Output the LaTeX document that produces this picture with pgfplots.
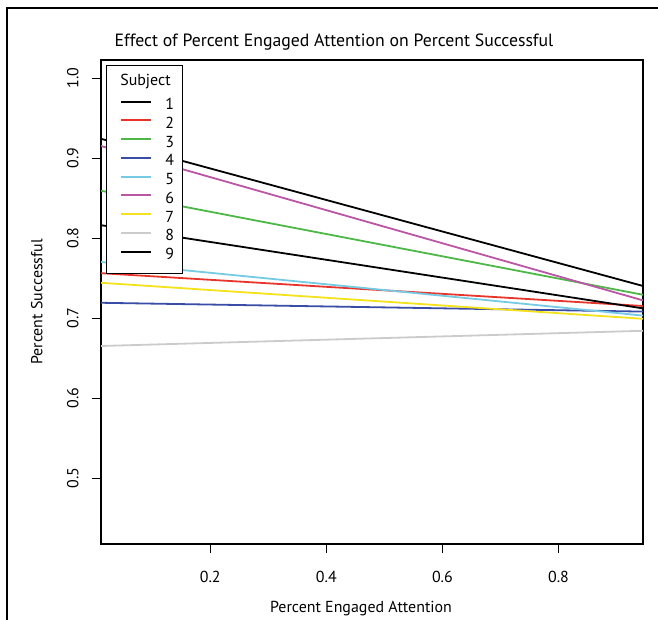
\documentclass[border=0pt]{standalone}
\usepackage{pgfplots}
\pgfplotsset{compat=1.18}
\usepackage{fontspec}
\setmainfont{PT Sans}

\definecolor{subjred}{HTML}{E8352B}
\definecolor{subjgreen}{HTML}{4DB848}
\definecolor{subjblue}{HTML}{3A4DA6}
\definecolor{subjcyan}{HTML}{74CBE3}
\definecolor{subjmagenta}{HTML}{BB55A6}
\definecolor{subjyellow}{HTML}{F4E21C}
\definecolor{subjgray}{HTML}{CBCBCB}

% struts that fix the legend row heights
\newcommand{\rowstrut}{\rule[-6.25bp]{0pt}{18.75bp}}
\newcommand{\titlestrut}{\rule[-11.5bp]{0pt}{24.3bp}}

\begin{document}
\begin{tikzpicture}[x=1bp,y=1bp]
\useasboundingbox (0,0) rectangle (658,620);
% figure frame (left and top edges)
\draw[line width=1.3bp] (7,0) -- (7,612) -- (658,612);
% title
\node[anchor=base,font=\fontsize{17.8}{20}\selectfont] at (334,573)
  {Effect of Percent Engaged Attention on Percent Successful};
\begin{axis}[
  at={(101bp,76bp)}, anchor=south west,
  width=542bp, height=484bp, scale only axis,
  xmin=0.0117, xmax=0.9457,
  ymin=0.4175, ymax=1.0225,
  xtick={0.2,0.4,0.6,0.8},
  ytick={0.5,0.6,0.7,0.8,0.9,1.0},
  xtick pos=bottom, ytick pos=left,
  tick align=outside,
  major tick length=9bp,
  tick style={line width=0.8bp, black},
  axis line style={line width=1.1bp},
  /pgf/number format/assume math mode=true,
  /pgf/number format/fixed,
  /pgf/number format/fixed zerofill,
  /pgf/number format/precision=1,
  ticklabel style={font=\fontsize{16}{18}\selectfont},
  xticklabel style={yshift=-15bp},
  yticklabel style={rotate=90, anchor=south, yshift=10bp},
  xlabel={Percent Engaged Attention},
  ylabel={Percent Successful},
  every axis y label/.style={at={(rel axis cs:0,0.5)}, rotate=90, anchor=south,
    yshift=55bp, font=\fontsize{16}{18}\selectfont},
  every axis x label/.style={at={(rel axis cs:0.5,0)}, anchor=north,
    yshift=-54bp, xshift=-11bp, font=\fontsize{16}{18}\selectfont},
  legend style={
    at={(rel axis cs:0.0092,0.9897)}, anchor=north west,
    draw=black, line width=0.8bp,
    font=\fontsize{16}{18}\selectfont,
    inner xsep=8bp, inner ysep=7.5bp,
    nodes={inner sep=0bp, text height=, text depth=},
    row sep=0bp,
    cells={anchor=west},
  },
  legend image code/.code={\path (-6bp,0bp);
    \draw[#1, line width=2bp] (0bp,5bp) -- (30bp,5bp);},
  every axis plot/.append style={line width=1.8bp},
]
\addlegendimage{empty legend}
\addlegendentry{\hspace{-32bp}Subject\titlestrut}
\addplot[black] table {
x y
0.0117 0.924
0.9457 0.740
};
\addlegendentry{\hspace{13bp}1\rowstrut}
\addplot[subjred] table {
x y
0.0117 0.756
0.9457 0.715
};
\addlegendentry{\hspace{13bp}2\rowstrut}
\addplot[subjgreen] table {
x y
0.0117 0.859
0.9457 0.729
};
\addlegendentry{\hspace{13bp}3\rowstrut}
\addplot[subjblue] table {
x y
0.0117 0.719
0.9457 0.708
};
\addlegendentry{\hspace{13bp}4\rowstrut}
\addplot[subjcyan] table {
x y
0.0117 0.770
0.9457 0.703
};
\addlegendentry{\hspace{13bp}5\rowstrut}
\addplot[subjmagenta] table {
x y
0.0117 0.915
0.9457 0.722
};
\addlegendentry{\hspace{13bp}6\rowstrut}
\addplot[subjyellow] table {
x y
0.0117 0.744
0.9457 0.699
};
\addlegendentry{\hspace{13bp}7\rowstrut}
\addplot[subjgray] table {
x y
0.0117 0.665
0.9457 0.684
};
\addlegendentry{\hspace{13bp}8\rowstrut}
\addplot[black] table {
x y
0.0117 0.816
0.9457 0.712
};
\addlegendentry{\hspace{13bp}9\rowstrut}
\end{axis}
\end{tikzpicture}
\end{document}
